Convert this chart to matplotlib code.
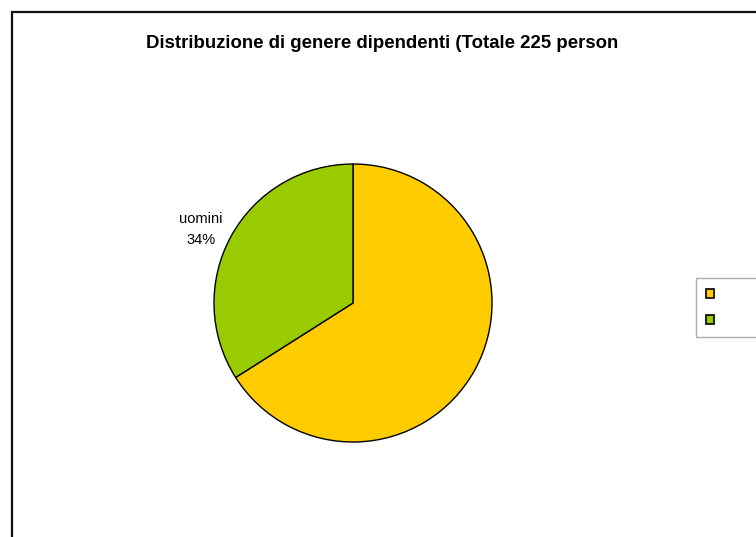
import matplotlib.pyplot as plt
import matplotlib
from matplotlib.patches import Rectangle

matplotlib.rcParams["font.family"] = ["Liberation Sans", "DejaVu Sans"]

# Data
categories = ["donne", "uomini"]
shares = [66, 34]
colors = ["#FFCC00", "#99CC00"]
show_label = [False, True]
title = "Distribuzione di genere dipendenti (Totale 225 person"

W, H = 756, 537
fig = plt.figure(figsize=(W / 100, H / 100), dpi=100)
fig.patch.set_facecolor("white")

# outer chart frame (cut off at right and bottom)
fig.patches.append(Rectangle(
    (12 / W, -0.1), 1.2, 1.1 - 12 / H,
    transform=fig.transFigure, fill=False, edgecolor="#111111", linewidth=1.6,
))

fig.text(382 / W, 1 - 43 / H, title, ha="center", va="center",
         fontsize=13.4, fontweight="bold")

# pie
cx, cy, r = 353, 303, 139
ax = fig.add_axes([(cx - r) / W, 1 - (cy + r) / H, 2 * r / W, 2 * r / H])
labels = [f"{c}\n{s}%" if show else "" for c, s, show in zip(categories, shares, show_label)]
wedges, texts = ax.pie(
    shares, colors=colors, startangle=90, counterclock=False,
    labels=labels, labeldistance=1.25,
    wedgeprops=dict(edgecolor="black", linewidth=1.0),
    textprops=dict(ha="center", va="center", fontsize=10.5,
                   multialignment="center", linespacing=1.6),
)
# nudge labels down a little, like the original
for t in texts:
    x, y = t.get_position()
    t.set_position((x, y - 0.075))
ax.set_xlim(-1, 1)
ax.set_ylim(-1, 1)
ax.set_aspect("equal")

# legend (labels fall outside the visible area, as in the reference)
leg = fig.legend(
    wedges, categories, loc="upper left",
    bbox_to_anchor=(696 / W, 1 - 278 / H), bbox_transform=fig.transFigure,
    borderaxespad=0, fancybox=False, shadow=False, fontsize=10,
    handlelength=0.6, handleheight=0.6, handletextpad=4.6,
    labelspacing=0.85, borderpad=0.7, frameon=True,
)
leg.get_frame().set_edgecolor("#999999")
leg.get_frame().set_linewidth(1.0)
for h in leg.legend_handles:
    h.set_edgecolor("black")
    h.set_linewidth(1.2)

plt.savefig("out.png", dpi=100, facecolor="white")
plt.close()
